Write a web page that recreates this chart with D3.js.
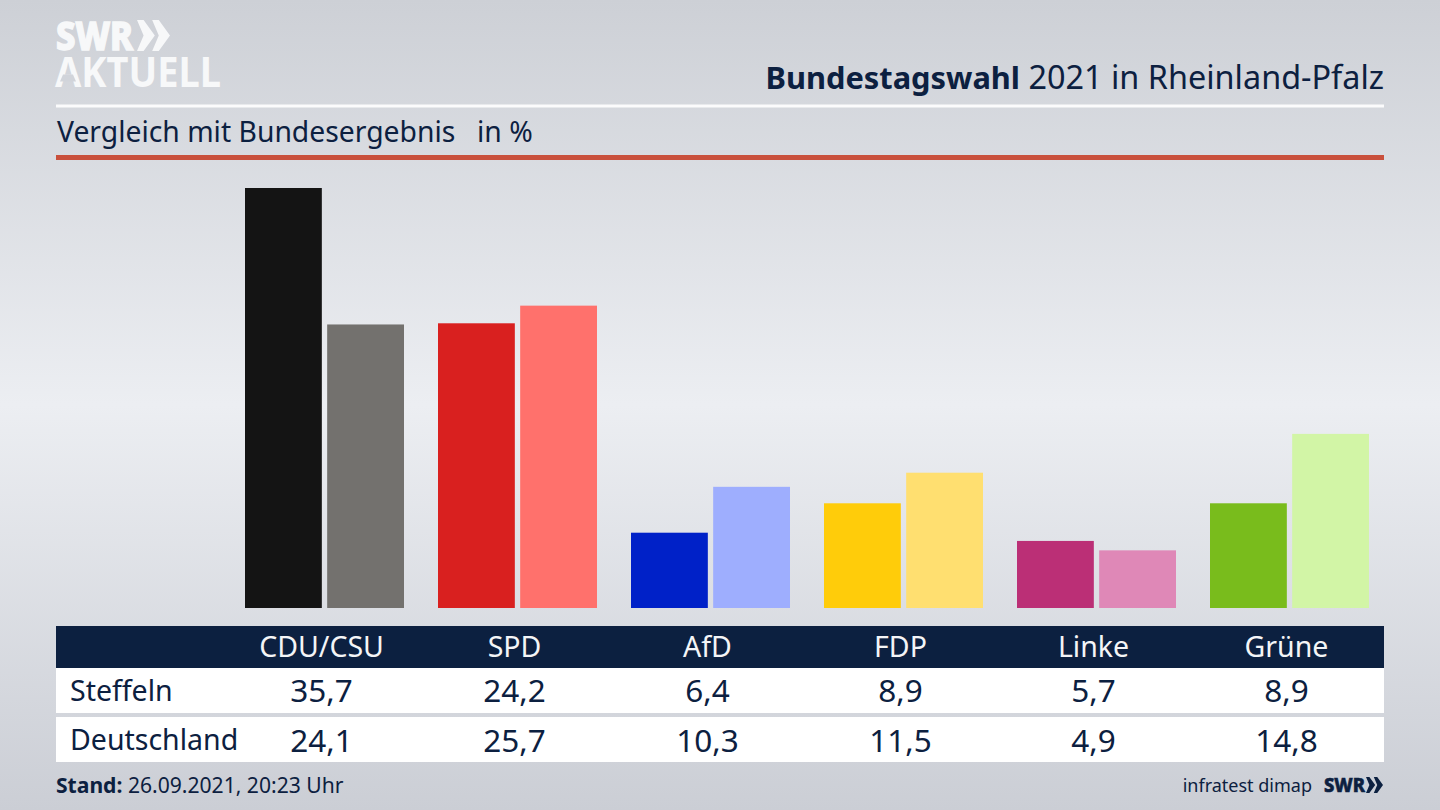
<!DOCTYPE html>
<html>
<head>
<meta charset="utf-8">
<script src="https://cdn.jsdelivr.net/npm/d3@7"></script>
<style>
html, body { margin: 0; padding: 0; background: #d0d3d9; overflow: hidden; }
svg { display: block; }
text { font-family: "Noto Sans", sans-serif; fill: #0c2040; }
</style>
</head>
<body>
<script>
var parties = ["CDU/CSU", "SPD", "AfD", "FDP", "Linke", "Grüne"];
var steffeln = [35.7, 24.2, 6.4, 8.9, 5.7, 8.9];
var deutschland = [24.1, 25.7, 10.3, 11.5, 4.9, 14.8];
var rowNames = ["Steffeln", "Deutschland"];
var darkColors = ["#141414", "#d9201f", "#0021c8", "#ffcc0a", "#bb2f76", "#79bc1c"];
var lightColors = ["#73716e", "#ff716c", "#9eaefe", "#ffdf70", "#df88b7", "#d2f5a6"];

var w = 1440;
var h = 810;
var navy = "#0c2040";
var logoWhite = "#f7f8f9";

var svg = d3.select("body")
	.append("svg")
	.attr("width", w)
	.attr("height", h);

// background
var grad = svg.append("defs").append("linearGradient")
	.attr("id", "bg")
	.attr("x1", 0).attr("y1", 0).attr("x2", 0).attr("y2", 1);
grad.selectAll("stop")
	.data([[0, "#cdd0d6"], [0.5, "#eceef2"], [1, "#cbced5"]])
	.enter()
	.append("stop")
	.attr("offset", function(d) { return d[0]; })
	.attr("stop-color", function(d) { return d[1]; });
svg.append("rect").attr("width", w).attr("height", h).attr("fill", "url(#bg)");

// logo
svg.append("text").text("SWR")
	.attr("x", 56).attr("y", 50)
	.attr("font-size", 40).attr("font-weight", 800)
	.attr("textLength", 77).attr("lengthAdjust", "spacingAndGlyphs")
	.style("fill", logoWhite)
	.style("stroke", logoWhite).style("stroke-width", 1.5);
svg.append("text").text("AKTUELL")
	.attr("x", 55).attr("y", 87)
	.attr("font-size", 41).attr("font-weight", 700)
	.attr("textLength", 166).attr("lengthAdjust", "spacingAndGlyphs")
	.style("fill", logoWhite);
// the logo's A has no crossbar
svg.append("path")
	.attr("d", "M63,74.5L73,74.5L76,81.5L60,81.5Z")
	.attr("fill", "#d1d4da");

function chevrons(x, y, s, color) {
	[0, 0.46].forEach(function(o) {
		var x0 = x + o * s;
		svg.append("path")
			.attr("d", "M" + x0 + "," + y + "l" + (0.2 * s) + ",0l" + (0.34 * s) + "," + (0.47 * s) +
				"l" + (-0.34 * s) + "," + (0.47 * s) + "l" + (-0.2 * s) + ",0l" + (0.2 * s) + "," + (-0.47 * s) + "z")
			.attr("fill", color);
	});
}
chevrons(137, 20, 33, logoWhite);

// header
var title = svg.append("text")
	.attr("x", 1384).attr("y", 89)
	.attr("text-anchor", "end");
title.append("tspan").text("Bundestagswahl").attr("font-weight", 700).attr("font-size", 30.8);
title.append("tspan").text(" 2021 in Rheinland-Pfalz").attr("font-size", 32.4);

svg.append("rect").attr("x", 56).attr("y", 104.5).attr("width", 1328).attr("height", 3).attr("fill", "#fbfbfc");

svg.append("text").text("Vergleich mit Bundesergebnis")
	.attr("x", 57).attr("y", 142).attr("font-size", 28.3);
svg.append("text").text("in %")
	.attr("x", 477).attr("y", 142).attr("font-size", 28.3);

svg.append("rect").attr("x", 56).attr("y", 155).attr("width", 1328).attr("height", 5).attr("fill", "#c9503c");

// bars
var x = d3.scaleBand()
	.domain(parties)
	.range([224.5, 1382.5]);
var inner = d3.scaleBand()
	.domain([0, 1])
	.range([0, 159])
	.paddingInner(0.065);
var y = d3.scaleLinear()
	.domain([0, 35.7])
	.range([608, 188]);
// bar groups sit a little right of the column centres
var offset = (x.bandwidth() - 159) / 2 + 3.5;

[steffeln, deutschland].forEach(function(series, s) {
	svg.append("g").selectAll("rect")
		.data(series)
		.enter()
		.append("rect")
		.attr("x", function(d, i) { return x(parties[i]) + offset + inner(s); })
		.attr("y", function(d) { return y(d); })
		.attr("width", inner.bandwidth())
		.attr("height", function(d) { return y(0) - y(d); })
		.attr("fill", function(d, i) { return s == 0 ? darkColors[i] : lightColors[i]; });
});

// table
svg.append("rect").attr("x", 56).attr("y", 626).attr("width", 1328).attr("height", 42).attr("fill", navy);
svg.append("rect").attr("x", 56).attr("y", 668).attr("width", 1328).attr("height", 45).attr("fill", "#fff");
svg.append("rect").attr("x", 56).attr("y", 717).attr("width", 1328).attr("height", 45).attr("fill", "#fff");

svg.selectAll("text.head")
	.data(parties)
	.enter()
	.append("text")
	.attr("class", "head")
	.text(function(d) { return d; })
	.attr("x", function(d) { return x(d) + x.bandwidth() / 2 + 0.5; })
	.attr("y", 657)
	.attr("text-anchor", "middle")
	.attr("font-size", 28.5)
	.style("fill", "#f4f5f7");

[steffeln, deutschland].forEach(function(series, s) {
	svg.append("text").text(rowNames[s])
		.attr("x", 70).attr("y", s == 0 ? 701 : 750).attr("font-size", 28.5);
	svg.append("g").selectAll("text")
		.data(series)
		.enter()
		.append("text")
		.text(function(d) { return d3.format(".1f")(d).replace(".", ","); })
		.attr("x", function(d, i) { return x(parties[i]) + x.bandwidth() / 2 + 0.5; })
		.attr("y", s == 0 ? 702 : 752)
		.attr("text-anchor", "middle")
		.attr("font-size", 31.5);
});

// footer
var stand = svg.append("text").attr("x", 56).attr("y", 793).attr("font-size", 21.1);
stand.append("tspan").text("Stand:").attr("font-weight", 700);
stand.append("tspan").text(" 26.09.2021, 20:23 Uhr");

svg.append("text").text("infratest dimap")
	.attr("x", 1312).attr("y", 792)
	.attr("text-anchor", "end")
	.attr("font-size", 18);
svg.append("text").text("SWR")
	.attr("x", 1324).attr("y", 792)
	.attr("font-size", 20).attr("font-weight", 800)
	.attr("textLength", 41).attr("lengthAdjust", "spacingAndGlyphs")
	.style("stroke", navy).style("stroke-width", 0.6);
chevrons(1366, 777, 17, navy);
</script>
</body>
</html>
